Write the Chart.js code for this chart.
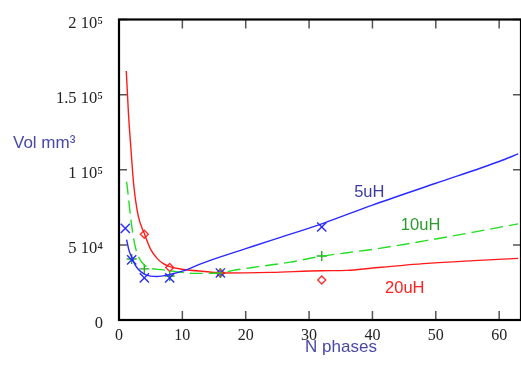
<!DOCTYPE html>
<html>
<head>
<meta charset="utf-8">
<script src="https://cdn.jsdelivr.net/npm/chart.js@4.4.1/dist/chart.umd.min.js"></script>
<style>
  html, body { margin: 0; padding: 0; background: #fff; }
</style>
</head>
<body>
<canvas id="volChart" width="521" height="367"></canvas>
<script>
// axis ticks
const yTickValues = [0, 50000, 100000, 150000, 200000];
const yTickLabels = ['0', '5 10⁴', '1 10⁵', '1.5 10⁵', '2 10⁵'];
const xTickValues = [0, 10, 20, 30, 40, 50, 60];

// fitted curves
const blueCurveN = [1.2, 1.6, 2, 2.5, 3, 4, 5, 6, 8, 10, 13, 16, 20, 24, 32, 40, 50, 60, 63];
const blueCurveV = [53500, 46000, 42000, 37000, 34000, 30500, 29200, 29000, 30300, 32500, 37500, 42000, 47500, 53000, 64000, 76500, 91000, 105500, 110500];

const greenCurveN = [1.2, 1.4, 1.9, 2.5, 3, 3.5, 4.4, 5, 6.7, 9.3, 12, 16, 18, 22, 27, 32, 36, 40, 48.7, 56, 63];
const greenCurveV = [92000, 85000, 66000, 50000, 43000, 39000, 35300, 34300, 33500, 32000, 31000, 31300, 33000, 35500, 38500, 42500, 44800, 47000, 53000, 58500, 64000];

const redCurveN = [1.15, 1.5, 1.9, 2.3, 3, 4, 5, 6, 7, 8, 10, 14, 16, 24, 32, 36, 40, 48.7, 56, 63];
const redCurveV = [165700, 137000, 113000, 91000, 70000, 57500, 47000, 41000, 37500, 35500, 33800, 32100, 31300, 31700, 32800, 33000, 34600, 37700, 39500, 41000];

// measured points
const blueMarkN = [1, 2, 4, 8, 16, 32];
const blueMarkV = [61000, 40000, 28000, 28000, 31300, 61900];
const greenMarkN = [2, 4, 8, 16, 32];
const greenMarkV = [40600, 34000, 29300, 31300, 42600];
const redMarkN = [4, 8, 16, 32];
const redMarkV = [57000, 35000, 31300, 26600];

const seriesNames = ['5uH', '10uH', '20uH'];

function toPoints(xs, ys) {
    return xs.map((x, i) => ({ x: x, y: ys[i] }));
}

// the plot box runs a few px past the chart area, up to the page edge
const edgeClip = { left: 2, top: 2, right: 8, bottom: 2 };

function curve(xs, ys, color, dash) {
    return {
        data: toPoints(xs, ys),
        showLine: true,
        borderColor: color,
        borderWidth: 1.4,
        borderDash: dash || [],
        pointRadius: 0,
        cubicInterpolationMode: 'monotone',
        fill: false,
        clip: edgeClip
    };
}

function marks(xs, ys, color, style, r) {
    return {
        data: toPoints(xs, ys),
        showLine: false,
        pointStyle: style,
        pointRadius: r,
        pointBorderColor: color,
        pointBackgroundColor: 'rgba(0,0,0,0)',
        pointBorderWidth: 1.4,
        borderColor: color,
        clip: edgeClip
    };
}

const serif = "'Liberation Serif', 'Times New Roman', serif";
const sans = "'Liberation Sans', Arial, sans-serif";

// frame, inward ticks, titles and curve labels
const framePlugin = {
    id: 'frame',
    afterDraw(chart) {
        const { ctx, chartArea: a, scales } = chart;
        const xs = scales.x, ys = scales.y;
        const right = chart.width;
        ctx.save();

        // tick marks pointing inward
        ctx.strokeStyle = '#555';
        ctx.lineWidth = 1.5;
        yTickValues.forEach(v => {
            const py = ys.getPixelForValue(v);
            ctx.beginPath();
            ctx.moveTo(a.left, py); ctx.lineTo(a.left + 8, py);
            ctx.moveTo(right, py); ctx.lineTo(right - 8, py);
            ctx.stroke();
        });
        xTickValues.slice(1).forEach(v => {
            const px = xs.getPixelForValue(v);
            ctx.beginPath();
            ctx.moveTo(px, a.bottom); ctx.lineTo(px, a.bottom - 9);
            ctx.moveTo(px, a.top); ctx.lineTo(px, a.top + 9);
            ctx.stroke();
        });

        // box
        ctx.strokeStyle = '#000';
        ctx.lineWidth = 2.2;
        ctx.strokeRect(a.left, a.top, right - a.left, a.bottom - a.top);

        // axis titles
        ctx.font = '17px ' + sans;
        ctx.fillStyle = '#4848a8';
        ctx.textBaseline = 'middle';
        ctx.textAlign = 'left';
        ctx.fillText('Vol mm³', 13, 143);
        ctx.textAlign = 'center';
        ctx.fillText('N phases', 341, 347);

        // curve labels
        const labelPos = [[39.5, 85000], [47.6, 62600], [45.1, 21300]];
        const labelCol = ['#3c3ca0', '#2a9a2a', '#ff2020'];
        ctx.font = '16.5px ' + sans;
        seriesNames.forEach((name, i) => {
            ctx.fillStyle = labelCol[i];
            ctx.fillText(name, xs.getPixelForValue(labelPos[i][0]), ys.getPixelForValue(labelPos[i][1]));
        });
        ctx.restore();
    }
};

const chart = new Chart(document.getElementById('volChart'), {
    type: 'scatter',
    data: {
        datasets: [
            curve(blueCurveN, blueCurveV, '#2a2aff'),
            curve(greenCurveN, greenCurveV, '#22dd22', [13, 6]),
            curve(redCurveN, redCurveV, '#ff1a1a'),
            marks(blueMarkN, blueMarkV, '#2a2aff', 'crossRot', 6.5),
            marks(greenMarkN, greenMarkV, '#22aa22', 'cross', 5),
            marks(redMarkN, redMarkV, '#ff3030', 'rectRot', 4)
        ]
    },
    options: {
        responsive: false,
        animation: false,
        layout: { padding: { top: 19.5, right: 0, left: 0, bottom: 0 } },
        plugins: { legend: { display: false }, tooltip: { enabled: false } },
        scales: {
            x: {
                type: 'linear',
                min: 0,
                max: 62.2,
                grid: { display: false, drawTicks: false },
                border: { display: false },
                afterFit: scale => {
                    scale.height = 47;
                    scale.paddingLeft = 0;
                    scale.paddingRight = 0;
                },
                ticks: {
                    stepSize: 10,
                    includeBounds: false,
                    padding: 6,
                    color: '#222',
                    font: { family: serif, size: 16 },
                    callback: v => xTickValues.includes(v) ? String(v) : ''
                }
            },
            y: {
                type: 'linear',
                min: 0,
                max: 200000,
                grid: { display: false, drawTicks: false },
                border: { display: false },
                afterFit: scale => {
                    scale.width = 119;
                    scale.paddingTop = 0;
                    scale.paddingBottom = 0;
                },
                ticks: {
                    stepSize: 50000,
                    padding: 16,
                    labelOffset: 4,
                    color: '#222',
                    font: { family: serif, size: 16.5 },
                    callback: v => yTickLabels[yTickValues.indexOf(v)]
                }
            }
        }
    },
    plugins: [framePlugin]
});
</script>
</body>
</html>
